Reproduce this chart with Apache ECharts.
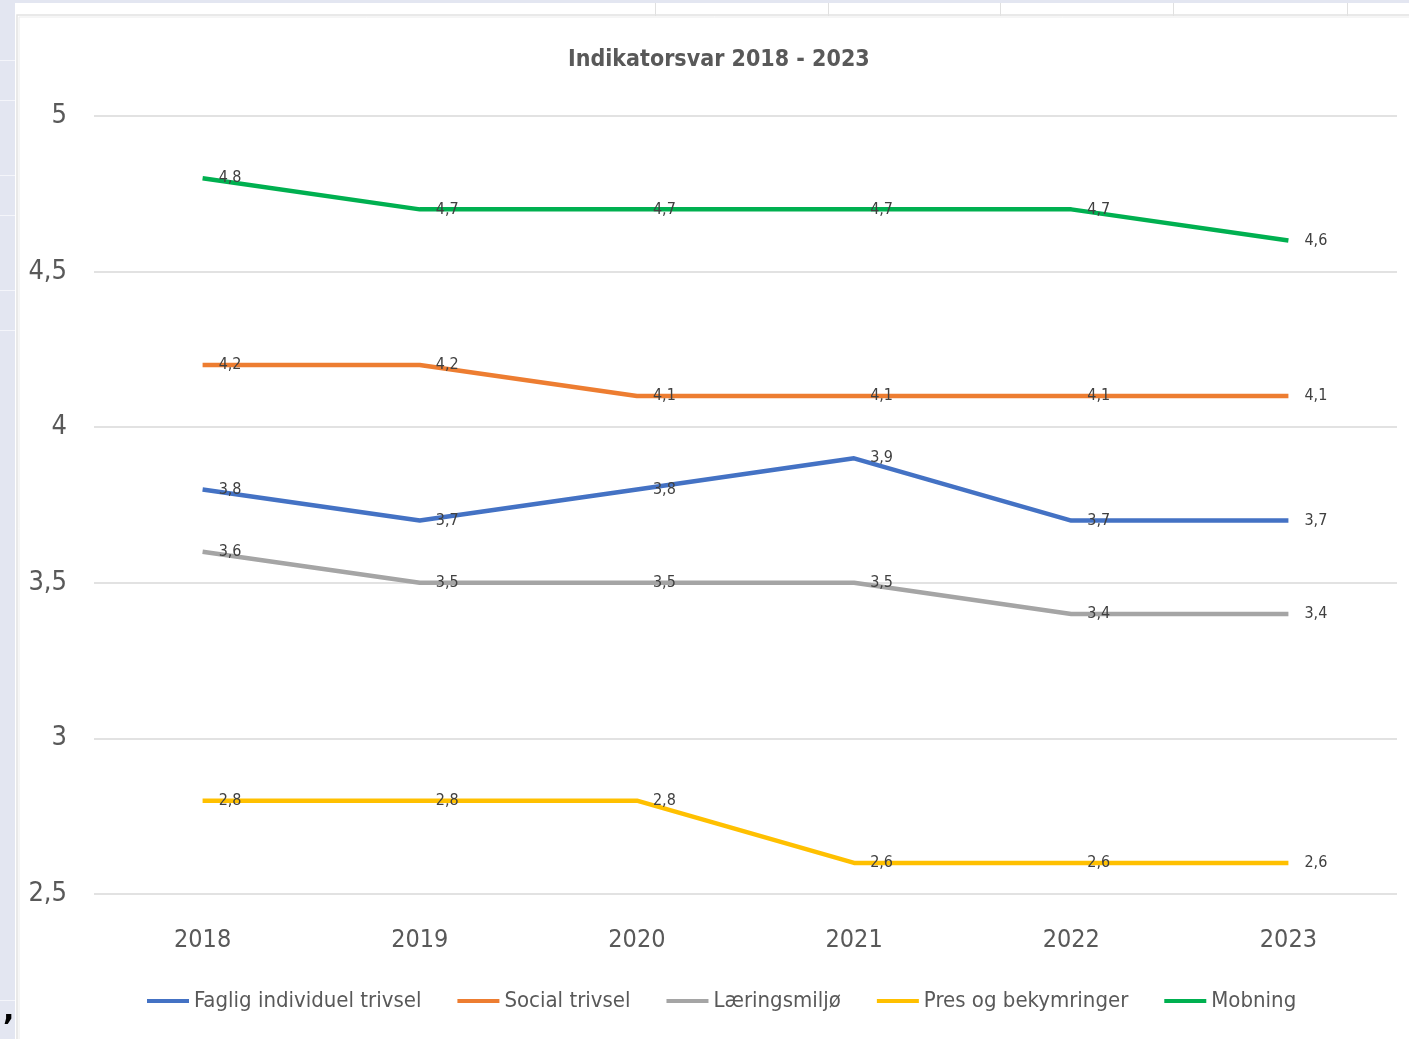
<!DOCTYPE html>
<html>
<head>
<meta charset="utf-8">
<script src="https://cdn.jsdelivr.net/npm/echarts@6/dist/echarts.min.js"></script>
<style>
  html, body { margin: 0; padding: 0; background: #fff; }
  #main { width: 1409px; height: 1039px; }
</style>
</head>
<body>
<div id="main"></div>
<script>
const years = ['2018', '2019', '2020', '2021', '2022', '2023'];
const faglig = [3.8, 3.7, 3.8, 3.9, 3.7, 3.7];
const social = [4.2, 4.2, 4.1, 4.1, 4.1, 4.1];
const laering = [3.6, 3.5, 3.5, 3.5, 3.4, 3.4];
const pres = [2.8, 2.8, 2.8, 2.6, 2.6, 2.6];
const mobning = [4.8, 4.7, 4.7, 4.7, 4.7, 4.6];

const font = '"Liberation Sans Narrow", "DejaVu Sans Condensed", "Roboto Condensed", sans-serif';
const comma = v => String(v).replace('.', ',');

function line(name, data, color) {
  return {
    name: name,
    type: 'line',
    data: data,
    symbol: 'circle',
    symbolSize: 0.1,
    showSymbol: true,
    lineStyle: { width: 4.5, color: color },
    itemStyle: { color: color },
    label: {
      show: true,
      position: 'right',
      distance: 16,
      fontFamily: font,
      fontSize: 16,
      color: '#404040',
      formatter: p => comma(p.value)
    },
    z: 3
  };
}

const chart = echarts.init(document.getElementById('main'));

// spreadsheet bits around the chart
const cellLines = [655, 828, 1000, 1173, 1347].map(x => ({
  type: 'rect', shape: { x: x, y: 3, width: 1, height: 13 },
  style: { fill: '#e0e0e0' }, silent: true
}));
const rowLines = [60, 100, 175, 215, 290, 330, 1000].map(y => ({
  type: 'rect', shape: { x: 0, y: y, width: 15, height: 1 },
  style: { fill: '#f4f5fa' }, silent: true
}));

chart.setOption({
  backgroundColor: '#fff',
  animation: false,
  graphic: [
    { type: 'rect', shape: { x: 0, y: 0, width: 1409, height: 3 }, style: { fill: '#e3e6f1' }, silent: true },
    { type: 'rect', shape: { x: 0, y: 0, width: 15, height: 1039 }, style: { fill: '#e3e6f1' }, silent: true },
    ...cellLines,
    ...rowLines,
    { type: 'rect', shape: { x: 17, y: 15, width: 1400, height: 1030 }, style: { fill: 'none', stroke: '#e2e2e2', lineWidth: 1.5 }, silent: true },
    { type: 'rect', shape: { x: 19, y: 17, width: 1400, height: 1030 }, style: { fill: 'none', stroke: '#ececec', lineWidth: 1 }, silent: true },
    { type: 'text', left: 3, top: 997, style: { text: ',', font: 'bold 30px "DejaVu Sans"', fill: '#000' }, silent: true }
  ],
  title: {
    text: 'Indikatorsvar 2018 - 2023',
    left: 563,
    top: 44,
    textStyle: { fontFamily: font, fontSize: 23, fontWeight: 'bold', color: '#595959' }
  },
  legend: {
    bottom: 22,
    left: 142,
    itemWidth: 42,
    itemHeight: 4,
    itemGap: 36,
    icon: 'rect',
    textStyle: { fontFamily: font, fontSize: 22, color: '#595959' },
    data: ['Faglig individuel trivsel', 'Social trivsel', 'Læringsmiljø', 'Pres og bekymringer', 'Mobning']
  },
  grid: { left: 94, right: 12, top: 116, bottom: 145 },
  xAxis: {
    type: 'category',
    data: years,
    boundaryGap: true,
    axisLine: { show: false },
    axisTick: { show: false },
    axisLabel: { fontFamily: font, fontSize: 25, color: '#595959', margin: 34 }
  },
  yAxis: {
    type: 'value',
    min: 2.5,
    max: 5,
    interval: 0.5,
    axisLine: { show: false },
    axisTick: { show: false },
    splitLine: { lineStyle: { color: '#d9d9d9', width: 1.5 } },
    axisLabel: { fontFamily: font, fontSize: 27, color: '#595959', margin: 27, formatter: v => comma(v) }
  },
  series: [
    line('Faglig individuel trivsel', faglig, '#4472C4'),
    line('Social trivsel', social, '#ED7D31'),
    line('Læringsmiljø', laering, '#A5A5A5'),
    line('Pres og bekymringer', pres, '#FFC000'),
    line('Mobning', mobning, '#00B050')
  ]
});
</script>
</body>
</html>
